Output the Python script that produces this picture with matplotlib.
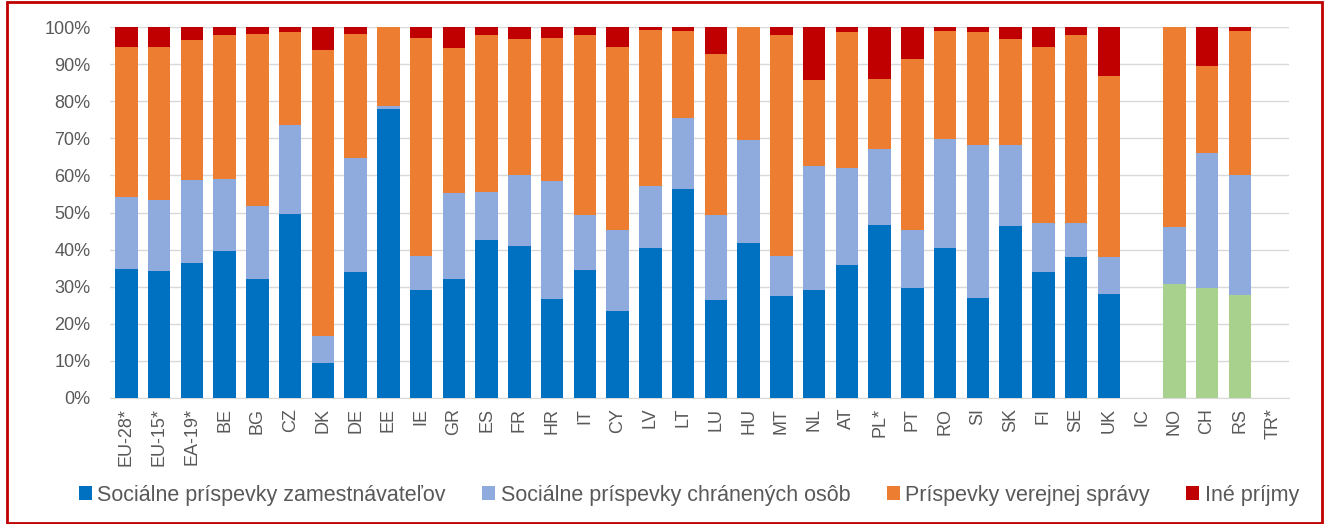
import numpy as np
import matplotlib.pyplot as plt
from matplotlib.patches import Rectangle, Patch

plt.rcParams['font.family'] = ['Liberation Sans', 'DejaVu Sans']

countries = ["EU-28*", "EU-15*", "EA-19*", "BE", "BG", "CZ", "DK", "DE", "EE", "IE",
             "GR", "ES", "FR", "HR", "IT", "CY", "LV", "LT", "LU", "HU", "MT", "NL",
             "AT", "PL*", "PT", "RO", "SI", "SK", "FI", "SE", "UK", "IC", "NO", "CH",
             "RS", "TR*"]
non_eu = ["IC", "NO", "CH", "RS", "TR*"]

# shares in %
employers = [34.7, 34.2, 36.3, 39.5, 32.2, 49.5, 9.3, 33.9, 77.8, 29.1,
             32.2, 42.6, 41.1, 26.6, 34.6, 23.5, 40.5, 56.3, 26.3, 41.9, 27.4, 29.1,
             35.9, 46.7, 29.7, 40.5, 27.0, 46.4, 33.9, 38.1, 28.0, 0, 30.7, 29.7,
             27.7, 0]
insured = [19.6, 19.3, 22.5, 19.6, 19.6, 24.2, 7.3, 30.8, 1.0, 9.3,
           23.1, 13.0, 19.1, 31.8, 14.8, 21.8, 16.6, 19.1, 23.1, 27.6, 11.0, 33.4,
           26.0, 20.3, 15.6, 29.4, 41.1, 21.7, 13.2, 9.0, 10.1, 0, 15.3, 36.3,
           32.5, 0]
government = [40.4, 41.2, 37.7, 38.7, 46.4, 24.9, 77.1, 33.5, 21.2, 58.7,
              39.0, 42.2, 36.6, 38.7, 48.4, 49.4, 42.2, 23.5, 43.3, 30.5, 59.4, 23.2,
              36.7, 19.1, 46.0, 29.0, 30.5, 28.7, 47.6, 50.7, 48.7, 0, 54.0, 23.6,
              38.7, 0]
other = [5.3, 5.3, 3.5, 2.2, 1.8, 1.4, 6.3, 1.8, 0, 2.9,
         5.7, 2.2, 3.2, 2.9, 2.2, 5.3, 0.7, 1.1, 7.3, 0, 2.2, 14.3,
         1.4, 13.9, 8.7, 1.1, 1.4, 3.2, 5.3, 2.2, 13.2, 0, 0, 10.4,
         1.1, 0]

labels = ["Sociálne príspevky zamestnávateľov", "Sociálne príspevky chránených osôb",
          "Príspevky verejnej správy", "Iné príjmy"]
colors = ["#0070C0", "#8FAADC", "#ED7D31", "#C00000"]
green = "#A9D18E"
grey = "#595959"

fig = plt.figure(figsize=(13.28, 5.24), dpi=100)
ax = fig.add_axes([110 / 1328, 1 - 398 / 524, 1179 / 1328, 371 / 524])

x = np.arange(len(countries))
w = 0.68
first_colors = [green if c in non_eu else colors[0] for c in countries]
bottom = np.zeros(len(countries))
for i, vals in enumerate([employers, insured, government, other]):
    vals = np.array(vals)
    col = first_colors if i == 0 else colors[i]
    ax.bar(x, vals, w, bottom=bottom, color=col, zorder=3)
    bottom += vals

ax.set_xlim(-0.5, len(countries) - 0.5)
ax.set_ylim(0, 100)
ax.set_yticks(np.arange(0, 101, 10))
ax.set_yticklabels([f"{v}%" for v in range(0, 101, 10)])
ax.set_xticks(x)
ax.set_xticklabels(countries, rotation=90)
ax.tick_params(axis='y', length=0, pad=14, labelsize=13, labelcolor=grey)
ax.tick_params(axis='x', length=0, pad=7, labelsize=13, labelcolor=grey)
ax.grid(axis='y', color="#D9D9D9", linewidth=1, zorder=0)
for s in ['top', 'right', 'left']:
    ax.spines[s].set_visible(False)
ax.spines['bottom'].set_color("#D9D9D9")

handles = [Patch(facecolor=c) for c in colors]
fig.legend(handles, labels, loc='center', bbox_to_anchor=(689 / 1328, 1 - 495 / 524),
           ncol=4, frameon=False, fontsize=15.5, labelcolor=grey,
           handlelength=0.6, handleheight=0.6, handletextpad=0.25, columnspacing=1.7,
           borderpad=0, borderaxespad=0)

fig.patches.append(Rectangle((7 / 1328, 1 / 524), 1315 / 1328, 521 / 524,
                             transform=fig.transFigure, fill=False,
                             edgecolor="#C00000", linewidth=2))

fig.savefig("out.png", dpi=100)
